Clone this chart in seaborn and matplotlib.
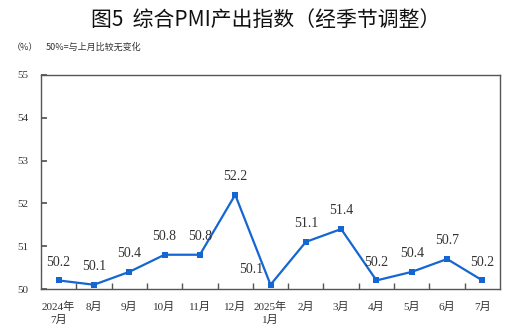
import matplotlib
matplotlib.use("Agg")
import matplotlib.pyplot as plt
import seaborn as sns
import pandas as pd

months = ["2024年\n7月", "8月", "9月", "10月", "11月", "12月", "2025年\n1月",
          "2月", "3月", "4月", "5月", "6月", "7月"]
values = [50.2, 50.1, 50.4, 50.8, 50.8, 52.2, 50.1, 51.1, 51.4, 50.2, 50.4, 50.7, 50.2]
yticks = [50, 51, 52, 53, 54, 55]

sns.set_theme(style="white")
cjk = ["Noto Sans CJK SC", "DejaVu Sans"]
serif = ["Liberation Serif", "Noto Sans CJK SC"]
plt.rcParams['font.family'] = serif

df = pd.DataFrame({"pos": list(range(len(months))), "value": values})

fig = plt.figure(figsize=(5.32, 3.32), dpi=100)
ax = fig.add_axes([0.077, 0.1295, 0.863, 0.645])
color = "#1466D3"
sns.lineplot(data=df, x="pos", y="value", ax=ax, color=color, linewidth=1.6,
             marker="s", markersize=4.5, markeredgewidth=0, markerfacecolor=color)

ax.set_xlim(-0.5, len(months) - 0.5)
ax.set_ylim(50, 55)
ax.set_yticks(yticks)
ax.set_yticklabels([str(v) for v in yticks], fontsize=8, color="#333333")
ax.set_xticks(range(len(months)))
ax.set_xticklabels(months, fontsize=8, color="#333333", family=serif, linespacing=1.4)
ax.set_xticks([i + 0.5 for i in range(len(months) - 1)], minor=True)
ax.tick_params(axis="x", which="major", length=0, pad=9)
ax.tick_params(axis="x", which="minor", length=4, direction="in", color="#555555", bottom=True)
ax.tick_params(axis="y", which="major", length=4, direction="in", color="#555555", left=True, pad=9)
ax.set_xlabel("")
ax.set_ylabel("")
for s in ax.spines.values():
    s.set_color("#555555")
    s.set_linewidth(1.0)

for i, v in enumerate(values):
    if i == 6:
        ax.annotate(f"{v}", (i, v), xytext=(-14, 11), textcoords="offset points",
                    ha="center", va="center", fontsize=10, color="#333333")
    else:
        ax.annotate(f"{v}", (i, v), xytext=(0, 13), textcoords="offset points",
                    ha="center", va="center", fontsize=10, color="#333333")

fig.text(0.5, 0.94, "图5  综合PMI产出指数（经季节调整）", ha="center", va="center",
         fontsize=15, family=cjk, color="#111111", weight="medium")
fig.text(0.022, 0.858, "（%）", ha="left", va="center", fontsize=6.5, family=cjk, color="#333333")
fig.text(0.085, 0.858, "50%=与上月比较无变化", ha="left", va="center", fontsize=6.5,
         family=cjk, color="#333333")

fig.savefig("out.png", dpi=100)
